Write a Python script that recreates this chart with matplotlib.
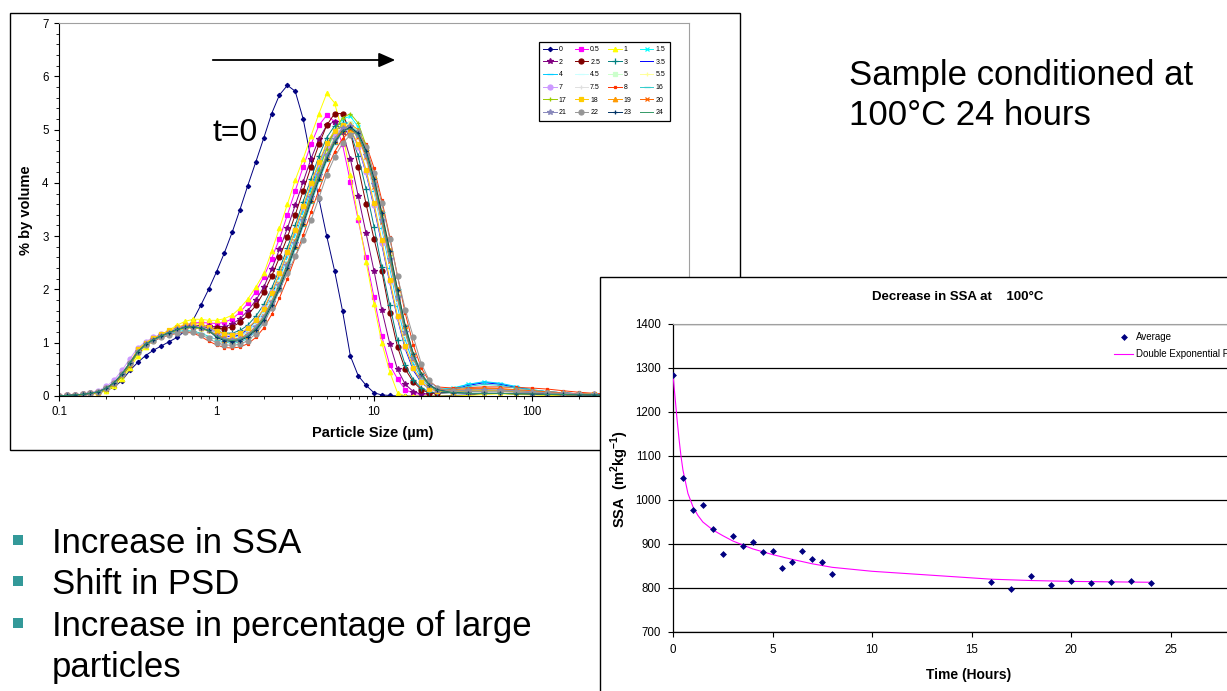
import numpy as np
import matplotlib
matplotlib.use("Agg")
import matplotlib.pyplot as plt
from matplotlib.patches import Rectangle, FancyArrowPatch
from matplotlib.ticker import MultipleLocator, LogLocator, NullFormatter

plt.rcParams["font.family"] = ["Liberation Sans", "DejaVu Sans"]
plt.rcParams["mathtext.fontset"] = "custom"
plt.rcParams["mathtext.rm"] = "Liberation Sans"
plt.rcParams["mathtext.bf"] = "Liberation Sans:bold"

W, H = 1227, 691

# ---------------- data: particle size distribution ----------------
size_um = [0.1, 0.112, 0.126, 0.141, 0.158, 0.178, 0.2, 0.224, 0.251, 0.282,
           0.316, 0.355, 0.398, 0.447, 0.501, 0.562, 0.631, 0.708, 0.794, 0.891,
           1.0, 1.12, 1.26, 1.41, 1.58, 1.78, 2.0, 2.24, 2.51, 2.82,
           3.16, 3.55, 3.98, 4.47, 5.01, 5.62, 6.31, 7.08, 7.94, 8.91,
           10.0, 11.2, 12.6, 14.1, 15.8, 17.8, 20.0, 22.4, 25.1,
           31.6, 39.8, 50.1, 63.1, 79.4, 100, 126, 158, 200, 251, 316, 398]

time_labels = ["0", "0.5", "1", "1.5", "2", "2.5", "3", "3.5", "4", "4.5", "5", "5.5",
               "7", "7.5", "8", "16", "17", "18", "19", "20", "21", "22", "23", "24"]

# shared lower hump (0.1 - 0.9 um) of most samples
hump_low = [0.0, 0.01, 0.02, 0.03, 0.05, 0.08, 0.15, 0.25, 0.41, 0.62,
            0.83, 0.97, 1.06, 1.13, 1.19, 1.25, 1.29, 1.3, 1.28, 1.23]
hump_tiny = [0.0, 0.01, 0.02, 0.03, 0.05, 0.08, 0.15, 0.25, 0.41, 0.62]

psd_values = [
    # 0
    [0.0, 0.0, 0.01, 0.02, 0.04, 0.06, 0.1, 0.17, 0.29, 0.48,
     0.63, 0.76, 0.86, 0.94, 1.02, 1.1, 1.22, 1.42, 1.7, 2.0,
     2.33, 2.68, 3.08, 3.5, 3.95, 4.4, 4.85, 5.3, 5.65, 5.83,
     5.72, 5.2, 4.45, 3.7, 3.0, 2.35, 1.6, 0.75, 0.38, 0.2,
     0.06, 0.02, 0.01, 0.0, 0.0, 0.0, 0.0, 0.0, 0.0,
     0.01, 0.02, 0.04, 0.05, 0.04, 0.03, 0.02, 0.01, 0.0, 0.0, 0.0, 0.0],
    # 0.5
    hump_tiny +
    [0.82, 0.97, 1.06, 1.13, 1.2, 1.27, 1.33, 1.37, 1.38, 1.37,
     1.36, 1.38, 1.45, 1.57, 1.74, 1.96, 2.24, 2.58, 2.95, 3.4,
     3.85, 4.3, 4.72, 5.08, 5.27, 5.15, 4.72, 4.02, 3.3, 2.6,
     1.85, 1.12, 0.58, 0.32, 0.12, 0.05, 0.03, 0.05, 0.08,
     0.1, 0.14, 0.12, 0.1, 0.08, 0.06, 0.04, 0.03, 0.02, 0.01, 0.01, 0.0],
    # 1
    [0.0, 0.0, 0.01, 0.02, 0.03, 0.05, 0.1, 0.18, 0.32, 0.52,
     0.75, 0.92, 1.05, 1.15, 1.24, 1.33, 1.4, 1.44, 1.44, 1.42,
     1.42, 1.45, 1.52, 1.65, 1.82, 2.05, 2.3, 2.72, 3.15, 3.6,
     4.05, 4.45, 4.88, 5.3, 5.68, 5.5, 4.95, 4.15, 3.35, 2.52,
     1.72, 1.0, 0.45, 0.06, 0.0, 0.0, 0.0, 0.0, 0.0,
     0.0, 0.01, 0.03, 0.04, 0.03, 0.02, 0.01, 0.0, 0.0, 0.0, 0.0, 0.0],
    # 1.5
    hump_low +
    [1.18, 1.12, 1.1, 1.13, 1.21, 1.36, 1.57, 1.86, 2.2, 2.59,
     3.0, 3.44, 3.88, 4.3, 4.68, 5.0, 5.2, 5.25, 5.05, 4.6,
     3.98, 3.28, 2.52, 1.8, 1.15, 0.66, 0.35, 0.18, 0.12,
     0.15, 0.22, 0.26, 0.23, 0.17, 0.12, 0.08, 0.06, 0.04, 0.03, 0.02, 0.01],
    # 2
    hump_tiny +
    [0.85, 0.98, 1.07, 1.14, 1.2, 1.26, 1.3, 1.32, 1.32, 1.31,
     1.3, 1.3, 1.35, 1.45, 1.6, 1.8, 2.05, 2.38, 2.75, 3.15,
     3.58, 4.02, 4.45, 4.82, 5.08, 5.15, 4.95, 4.45, 3.75, 3.05,
     2.35, 1.62, 0.98, 0.5, 0.22, 0.08, 0.04, 0.04, 0.06,
     0.08, 0.12, 0.14, 0.12, 0.1, 0.08, 0.06, 0.04, 0.03, 0.02, 0.01, 0.0],
    # 2.5
    hump_tiny +
    [0.84, 0.98, 1.07, 1.14, 1.2, 1.25, 1.29, 1.3, 1.29, 1.28,
     1.27, 1.26, 1.3, 1.38, 1.52, 1.7, 1.95, 2.25, 2.6, 2.98,
     3.4, 3.85, 4.3, 4.72, 5.08, 5.3, 5.3, 4.95, 4.3, 3.6,
     2.95, 2.35, 1.55, 0.92, 0.5, 0.26, 0.12, 0.06, 0.05,
     0.07, 0.1, 0.12, 0.11, 0.09, 0.07, 0.05, 0.04, 0.03, 0.02, 0.01, 0.0],
    # 3
    hump_low +
    [1.22, 1.18, 1.18, 1.23, 1.33, 1.5, 1.72, 2.02, 2.38, 2.78,
     3.2, 3.65, 4.08, 4.5, 4.85, 5.07, 5.12, 4.95, 4.5, 3.88,
     3.18, 2.42, 1.7, 1.05, 0.58, 0.3, 0.15, 0.08, 0.06,
     0.06, 0.08, 0.1, 0.1, 0.09, 0.08, 0.06, 0.05, 0.03, 0.02, 0.01, 0.0],
    # 3.5
    hump_low +
    [1.17, 1.12, 1.11, 1.15, 1.25, 1.41, 1.63, 1.93, 2.28, 2.68,
     3.1, 3.53, 3.95, 4.36, 4.71, 4.97, 5.08, 5.0, 4.68, 4.18,
     3.55, 2.85, 2.12, 1.45, 0.88, 0.48, 0.25, 0.14, 0.1,
     0.12, 0.2, 0.25, 0.22, 0.16, 0.11, 0.08, 0.06, 0.04, 0.03, 0.02, 0.01],
    # 4
    hump_low +
    [1.15, 1.09, 1.07, 1.1, 1.19, 1.34, 1.55, 1.84, 2.18, 2.57,
     2.98, 3.42, 3.85, 4.26, 4.63, 4.93, 5.12, 5.13, 4.9, 4.45,
     3.85, 3.15, 2.4, 1.68, 1.05, 0.6, 0.32, 0.17, 0.12,
     0.14, 0.22, 0.27, 0.24, 0.18, 0.12, 0.08, 0.06, 0.04, 0.03, 0.02, 0.01],
    # 4.5
    hump_low +
    [1.16, 1.1, 1.08, 1.11, 1.2, 1.35, 1.56, 1.84, 2.17, 2.55,
     2.96, 3.39, 3.81, 4.21, 4.57, 4.86, 5.03, 5.05, 4.86, 4.45,
     3.88, 3.2, 2.48, 1.76, 1.13, 0.66, 0.35, 0.18, 0.11,
     0.1, 0.15, 0.2, 0.18, 0.14, 0.1, 0.07, 0.05, 0.04, 0.03, 0.02, 0.01],
    # 5
    hump_low +
    [1.14, 1.08, 1.06, 1.08, 1.16, 1.3, 1.5, 1.78, 2.1, 2.48,
     2.9, 3.33, 3.76, 4.17, 4.54, 4.85, 5.05, 5.12, 4.96, 4.57,
     4.0, 3.33, 2.6, 1.88, 1.22, 0.72, 0.39, 0.2, 0.12,
     0.1, 0.12, 0.14, 0.13, 0.11, 0.09, 0.07, 0.05, 0.04, 0.03, 0.02, 0.01],
    # 5.5
    hump_low +
    [1.15, 1.09, 1.07, 1.09, 1.17, 1.31, 1.51, 1.79, 2.12, 2.5,
     2.92, 3.36, 3.79, 4.2, 4.57, 4.88, 5.07, 5.1, 4.92, 4.52,
     3.95, 3.28, 2.55, 1.83, 1.18, 0.7, 0.37, 0.19, 0.11,
     0.09, 0.11, 0.13, 0.12, 0.1, 0.08, 0.06, 0.05, 0.04, 0.03, 0.02, 0.01],
    # 7
    [0.0, 0.01, 0.02, 0.04, 0.06, 0.1, 0.18, 0.3, 0.48, 0.7,
     0.9, 1.02, 1.1, 1.16, 1.21, 1.26, 1.3, 1.31, 1.3, 1.26,
     1.2, 1.15, 1.14, 1.18, 1.27, 1.43, 1.65, 1.95, 2.3, 2.7,
     3.12, 3.55, 3.97, 4.35, 4.68, 4.92, 5.02, 4.95, 4.68, 4.2,
     3.58, 2.88, 2.15, 1.48, 0.92, 0.52, 0.27, 0.14, 0.09,
     0.08, 0.1, 0.12, 0.11, 0.1, 0.08, 0.06, 0.05, 0.04, 0.03, 0.02, 0.01],
    # 7.5
    hump_low +
    [1.17, 1.11, 1.09, 1.11, 1.19, 1.33, 1.53, 1.8, 2.12, 2.5,
     2.92, 3.35, 3.78, 4.18, 4.54, 4.83, 5.0, 5.02, 4.84, 4.45,
     3.9, 3.23, 2.52, 1.81, 1.18, 0.7, 0.38, 0.2, 0.11,
     0.1, 0.12, 0.13, 0.12, 0.1, 0.08, 0.06, 0.05, 0.04, 0.03, 0.02, 0.01],
    # 8
    [0.0, 0.0, 0.01, 0.02, 0.04, 0.07, 0.13, 0.22, 0.37, 0.57,
     0.82, 0.95, 1.03, 1.1, 1.14, 1.18, 1.2, 1.18, 1.12, 1.03,
     0.96, 0.91, 0.9, 0.92, 0.98, 1.1, 1.28, 1.53, 1.84, 2.2,
     2.6, 3.02, 3.45, 3.87, 4.25, 4.58, 4.83, 4.97, 4.95, 4.72,
     4.28, 3.68, 2.98, 2.25, 1.55, 0.95, 0.52, 0.28, 0.17,
     0.15, 0.16, 0.17, 0.17, 0.16, 0.15, 0.13, 0.1, 0.07, 0.05, 0.03, 0.02],
    # 16
    hump_tiny +
    [0.84, 0.97, 1.06, 1.12, 1.17, 1.21, 1.23, 1.22, 1.18, 1.12,
     1.06, 1.01, 0.99, 1.01, 1.08, 1.21, 1.4, 1.66, 1.98, 2.35,
     2.76, 3.19, 3.62, 4.03, 4.41, 4.73, 4.96, 5.06, 4.95, 4.62,
     4.1, 3.45, 2.73, 2.0, 1.33, 0.8, 0.43, 0.22, 0.13,
     0.12, 0.18, 0.22, 0.2, 0.15, 0.11, 0.08, 0.06, 0.04, 0.03, 0.02, 0.01],
    # 17
    [0.0, 0.0, 0.01, 0.02, 0.04, 0.07, 0.12, 0.21, 0.36, 0.57,
     0.8, 0.95, 1.05, 1.12, 1.18, 1.23, 1.27, 1.28, 1.26, 1.22,
     1.15, 1.09, 1.06, 1.08, 1.15, 1.29, 1.49, 1.77, 2.1, 2.48,
     2.9, 3.35, 3.8, 4.24, 4.64, 4.98, 5.22, 5.3, 5.12, 4.7,
     4.1, 3.4, 2.65, 1.9, 1.22, 0.7, 0.37, 0.19, 0.11,
     0.08, 0.09, 0.1, 0.1, 0.09, 0.08, 0.06, 0.05, 0.04, 0.03, 0.02, 0.01],
    # 18
    hump_tiny +
    [0.88, 1.0, 1.09, 1.16, 1.23, 1.29, 1.34, 1.36, 1.35, 1.3,
     1.22, 1.17, 1.15, 1.18, 1.27, 1.42, 1.64, 1.94, 2.3, 2.7,
     3.12, 3.56, 3.99, 4.39, 4.74, 4.98, 5.08, 5.0, 4.72, 4.25,
     3.62, 2.92, 2.18, 1.5, 0.93, 0.52, 0.27, 0.14, 0.09,
     0.08, 0.1, 0.11, 0.1, 0.09, 0.08, 0.06, 0.05, 0.04, 0.03, 0.02, 0.01],
    # 19
    hump_low +
    [1.12, 1.06, 1.04, 1.06, 1.13, 1.26, 1.45, 1.72, 2.04, 2.41,
     2.82, 3.25, 3.68, 4.09, 4.47, 4.79, 5.0, 5.1, 5.0, 4.65,
     4.12, 3.46, 2.74, 2.0, 1.32, 0.78, 0.42, 0.21, 0.12,
     0.1, 0.12, 0.14, 0.13, 0.11, 0.09, 0.07, 0.05, 0.04, 0.03, 0.02, 0.01],
    # 20
    hump_low +
    [1.14, 1.08, 1.06, 1.08, 1.16, 1.3, 1.5, 1.77, 2.1, 2.48,
     2.9, 3.33, 3.76, 4.16, 4.52, 4.81, 4.99, 5.02, 4.86, 4.48,
     3.93, 3.26, 2.54, 1.83, 1.19, 0.7, 0.38, 0.2, 0.12,
     0.12, 0.14, 0.15, 0.14, 0.12, 0.1, 0.08, 0.06, 0.04, 0.03, 0.02, 0.01],
    # 21
    hump_low +
    [1.13, 1.07, 1.05, 1.07, 1.15, 1.29, 1.49, 1.76, 2.08, 2.46,
     2.88, 3.31, 3.74, 4.15, 4.52, 4.83, 5.03, 5.06, 4.9, 4.52,
     3.97, 3.3, 2.58, 1.86, 1.21, 0.71, 0.38, 0.2, 0.11,
     0.09, 0.11, 0.12, 0.11, 0.1, 0.08, 0.06, 0.05, 0.04, 0.03, 0.02, 0.01],
    # 22
    hump_tiny +
    [0.82, 0.95, 1.04, 1.1, 1.15, 1.19, 1.21, 1.2, 1.15, 1.08,
     1.0, 0.96, 0.95, 0.97, 1.04, 1.17, 1.37, 1.65, 2.0, 2.3,
     2.62, 2.92, 3.3, 3.72, 4.15, 4.48, 4.74, 4.9, 4.96, 4.68,
     4.18, 3.62, 2.95, 2.25, 1.62, 1.1, 0.6, 0.3, 0.15,
     0.1, 0.09, 0.08, 0.08, 0.07, 0.06, 0.05, 0.04, 0.03, 0.02, 0.01, 0.01],
    # 23
    hump_low +
    [1.1, 1.04, 1.02, 1.04, 1.11, 1.24, 1.43, 1.7, 2.02, 2.4,
     2.8, 3.23, 3.66, 4.07, 4.45, 4.76, 4.97, 5.04, 4.93, 4.6,
     4.08, 3.43, 2.72, 1.99, 1.31, 0.78, 0.41, 0.21, 0.12,
     0.06, 0.05, 0.05, 0.05, 0.04, 0.04, 0.03, 0.03, 0.02, 0.02, 0.01, 0.01],
    # 24
    hump_low +
    [1.12, 1.06, 1.04, 1.06, 1.13, 1.27, 1.46, 1.73, 2.06, 2.44,
     2.85, 3.28, 3.71, 4.11, 4.48, 4.78, 4.97, 5.02, 4.9, 4.55,
     4.02, 3.36, 2.64, 1.92, 1.26, 0.75, 0.4, 0.2, 0.11,
     0.06, 0.05, 0.05, 0.05, 0.04, 0.04, 0.03, 0.03, 0.02, 0.02, 0.01, 0.01],
]

# ---------------- data: SSA decrease ----------------
ssa_time = [0, 0.5, 1, 1.5, 2, 2.5, 3, 3.5, 4, 4.5, 5, 5.5, 6, 6.5, 7, 7.5, 8,
            16, 17, 18, 19, 20, 21, 22, 23, 24]
ssa_avg = [1285, 1051, 977, 989, 934, 877, 919, 895, 904, 882, 885, 846, 860, 883,
           867, 858, 831, 813, 798, 827, 806, 816, 811, 813, 816, 811]
fit_time = [0, 0.1, 0.2, 0.3, 0.4, 0.5, 0.75, 1, 1.25, 1.5, 2, 2.5, 3, 4, 5, 6, 7, 8,
            10, 12, 14, 16, 18, 20, 22, 24]
fit_ssa = [1285, 1235, 1185, 1140, 1100, 1068, 1015, 985, 965, 950, 932, 919, 907,
           889, 876, 865, 855, 847, 838, 832, 826, 820, 817, 815, 814, 813]
time_ticks = [0, 5, 10, 15, 20, 25, 30]
time_tick_labels = ["0", "5", "10", "15", "20", "25", ""]

# ---------------- styles ----------------
series_colors = ["#000080", "#FF00FF", "#FFFF00", "#00FFFF", "#800080", "#800000",
                 "#008080", "#0000FF", "#00CCFF", "#CCFFFF", "#CCFFCC", "#FFFF99",
                 "#CC99FF", "#E0E0E0", "#FF3300", "#33CCCC", "#99CC00", "#FFCC00",
                 "#FF9900", "#FF6600", "#8888BB", "#969696", "#003366", "#339966"]
series_markers = ["D", "s", "^", "x", "*", "o", "+", None, "_", "_", "s", "+",
                  "o", "+", "s", "_", "+", "s", "^", "x", "*", "o", "+", None]
series_ms = [2.2, 3, 3.2, 3, 3.8, 3.6, 3.8, 0, 4, 4, 3, 3.5,
             3.6, 3.5, 1.8, 4, 3.5, 3, 3.2, 3, 3.8, 3.6, 3.5, 0]


def fx(x):
    return x / W


def fy(y):
    return 1 - y / H


fig = plt.figure(figsize=(W / 100, H / 100), dpi=100)
fig.patch.set_facecolor("white")

# chart frames
fig.add_artist(Rectangle((fx(10), fy(450)), 730 / W, 437 / H, transform=fig.transFigure,
                         facecolor="white", edgecolor="black", linewidth=1, zorder=0))
fig.add_artist(Rectangle((fx(600), fy(730)), 720 / W, 453 / H, transform=fig.transFigure,
                         facecolor="white", edgecolor="black", linewidth=1, zorder=2))

# ---------------- PSD chart ----------------
ax1 = fig.add_axes([fx(59), fy(396), 630 / W, 373 / H], zorder=1)
for vals, lab, col, mk, ms in zip(psd_values, time_labels, series_colors, series_markers, series_ms):
    ax1.plot(size_um, vals, color=col, lw=0.7, marker=mk, ms=ms, mew=0.9,
             mfc=col, mec=col, label=lab)

ax1.set_xscale("log")
ax1.set_xlim(0.1, 1000)
ax1.set_ylim(0, 7)
ax1.set_xticks([0.1, 1, 10, 100, 1000])
ax1.set_xticklabels(["0.1", "1", "10", "100", "1000"])
ax1.xaxis.set_minor_locator(LogLocator(base=10, subs=np.arange(2, 10)))
ax1.xaxis.set_minor_formatter(NullFormatter())
ax1.yaxis.set_major_locator(MultipleLocator(1))
ax1.yaxis.set_minor_locator(MultipleLocator(0.2))
ax1.tick_params(which="major", direction="out", length=3.5, width=0.8, labelsize=8.3, pad=4)
ax1.tick_params(which="minor", direction="out", length=2, width=0.6)
for s in ["left", "bottom"]:
    ax1.spines[s].set_color("black")
    ax1.spines[s].set_linewidth(0.8)
for s in ["top", "right"]:
    ax1.spines[s].set_color("#A0A0A0")
    ax1.spines[s].set_linewidth(0.8)

handles, labels = ax1.get_legend_handles_labels()
nrow, ncol = 6, 4
order = [r * ncol + c for c in range(ncol) for r in range(nrow)]
leg = ax1.legend([handles[i] for i in order], [labels[i] for i in order], ncol=ncol,
                 loc="upper left", bbox_to_anchor=(fx(538.5), fy(41.5)),
                 bbox_transform=fig.transFigure, fontsize=5, frameon=True, fancybox=False,
                 edgecolor="black", framealpha=1, borderpad=0.7, labelspacing=0.8,
                 handlelength=1.9, handletextpad=0.3, columnspacing=1.2, borderaxespad=0)
leg.get_frame().set_linewidth(0.9)

fig.text(fx(373), fy(433), "Particle Size (\u00b5m)", ha="center", va="center",
         fontsize=10.5, fontweight="bold")
fig.text(fx(26), fy(210), "% by volume", ha="center", va="center", rotation=90,
         fontsize=10.5, fontweight="bold")

fig.add_artist(FancyArrowPatch((fx(210), fy(60)), (fx(398), fy(60)), transform=fig.transFigure,
                               arrowstyle="-|>,head_length=0.5,head_width=0.22",
                               mutation_scale=20, color="black", lw=1.3, zorder=5))
fig.text(fx(235), fy(133), "t=0", ha="center", va="center", fontsize=23, zorder=5)

# ---------------- SSA chart ----------------
ax2 = fig.add_axes([fx(673), fy(632), 597 / W, 308 / H], zorder=3)
ax2.set_xlim(0, 30)
ax2.set_ylim(700, 1400)
ax2.set_xticks(time_ticks)
ax2.set_xticklabels(time_tick_labels)
ax2.set_yticks(range(700, 1401, 100))
ax2.grid(axis="y", color="black", lw=0.9)
ax2.set_axisbelow(True)
fit_line, = ax2.plot(fit_time, fit_ssa, color="#FF00FF", lw=0.8, zorder=3)
avg_pts, = ax2.plot(ssa_time, ssa_avg, ls="none", marker="D", ms=3.0, mew=0.5,
                    color="#000080", zorder=4)
ax2.tick_params(direction="out", length=3.5, width=0.8, labelsize=8.3, pad=5)
for s in ["left", "bottom"]:
    ax2.spines[s].set_color("black")
    ax2.spines[s].set_linewidth(0.9)
for s in ["top", "right"]:
    ax2.spines[s].set_color("#A0A0A0")
    ax2.spines[s].set_linewidth(0.8)

leg2 = ax2.legend([avg_pts, fit_line], ["Average", "Double Exponential Fit"],
                  loc="upper left", bbox_to_anchor=(fx(1114), fy(332)),
                  bbox_transform=fig.transFigure, frameon=False, fontsize=7,
                  handlelength=2.0, handletextpad=0.3, labelspacing=0.75, borderaxespad=0,
                  borderpad=0)

fig.text(fx(958), fy(297), "Decrease in SSA at    100\u00b0C", ha="center", va="center",
         fontsize=9.5, fontweight="bold", zorder=5)
fig.text(fx(969), fy(675), "Time (Hours)", ha="center", va="center",
         fontsize=10, fontweight="bold", zorder=5)
fig.text(fx(620), fy(479), r"SSA  (m$^{\mathbf{2}}$kg$^{\mathbf{-1}}$)", ha="center",
         va="center", rotation=90, fontsize=10.5, fontweight="bold", zorder=5)

# ---------------- slide text ----------------
fig.text(fx(849), fy(85), "Sample conditioned at", ha="left", va="baseline",
         fontsize=25, zorder=5)
fig.text(fx(849), fy(125), "100\u00b0C 24 hours", ha="left", va="baseline",
         fontsize=25, zorder=5)

bullet_lines = ["Increase in SSA", "Shift in PSD", "Increase in percentage of large"]
bullet_base = [553, 594, 636]
for txt, yb in zip(bullet_lines, bullet_base):
    fig.add_artist(Rectangle((fx(13), fy(yb - 8)), 10 / W, 10 / H, transform=fig.transFigure,
                             facecolor="#339999", edgecolor="none", zorder=5))
    fig.text(fx(52), fy(yb), txt, ha="left", va="baseline", fontsize=25, zorder=5)
fig.text(fx(52), fy(677), "particles", ha="left", va="baseline", fontsize=25, zorder=5)

fig.savefig("out.png", dpi=100)
